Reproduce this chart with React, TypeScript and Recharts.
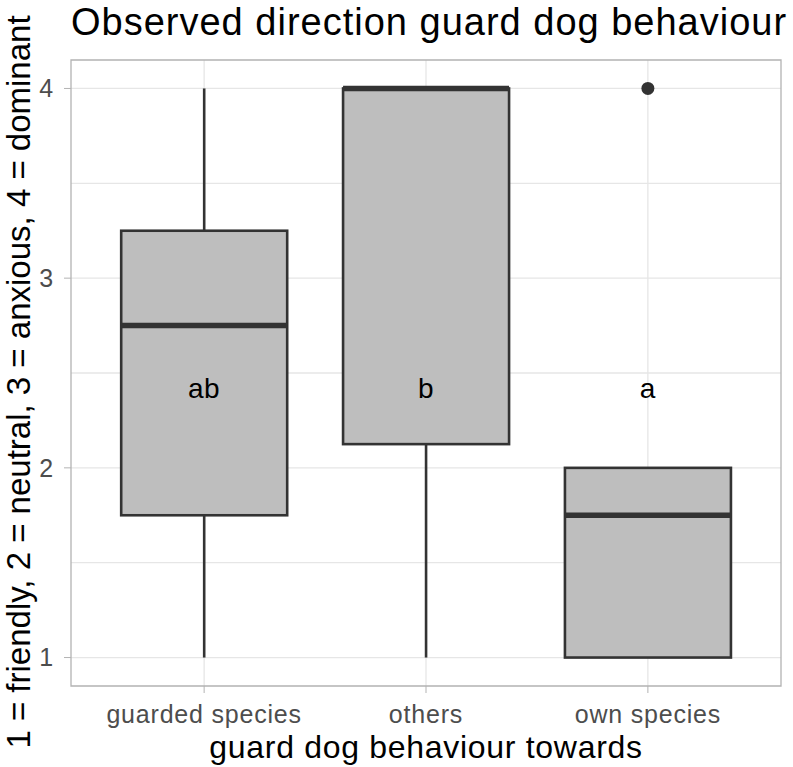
import * as React from 'react';
import {
  Bar,
  CartesianGrid,
  ComposedChart,
  ReferenceArea,
  Scatter,
  XAxis,
  YAxis,
} from 'recharts';

const categories = ['guarded species', 'others', 'own species'];
const whiskerLow = [1, 1, 1];
const q1 = [1.75, 2.125, 1];
const median = [2.75, 4, 1.75];
const q3 = [3.25, 4, 2];
const whiskerHigh = [4, 4, 2];
const outliers = [null, null, 4];
const letters = ['ab', 'b', 'a'];
const letterY = [2.42, 2.42, 2.42];
const yTicks = [1, 2, 3, 4];
const gridValues = [1, 1.5, 2, 2.5, 3, 3.5, 4];
const xTicks = [1, 2, 3];

const data = categories.map((name, i) => ({
  idx: i + 1,
  name,
  range: [whiskerLow[i], whiskerHigh[i]],
  lo: whiskerLow[i],
  q1: q1[i],
  med: median[i],
  q3: q3[i],
  hi: whiskerHigh[i],
  outlier: outliers[i],
  letter: letters[i],
  letterY: letterY[i],
}));

const FONT = '"Liberation Sans", Arial, sans-serif';
const INK = '#333333';

const BoxShape = (props: any) => {
  const { x, y, width, height, payload } = props;
  const { lo, hi } = payload;
  const k = height / (hi - lo);
  const yOf = (v: number) => y + (hi - v) * k;
  const cx = x + width / 2;
  return (
    <g>
      <line x1={cx} x2={cx} y1={yOf(hi)} y2={yOf(payload.q3)} stroke={INK} strokeWidth={2.6} />
      <line x1={cx} x2={cx} y1={yOf(payload.q1)} y2={yOf(lo)} stroke={INK} strokeWidth={2.6} />
      <rect
        x={x}
        y={yOf(payload.q3)}
        width={width}
        height={yOf(payload.q1) - yOf(payload.q3)}
        fill="#bebebe"
        stroke={INK}
        strokeWidth={2.6}
      />
      <line x1={x} x2={x + width} y1={yOf(payload.med)} y2={yOf(payload.med)} stroke={INK} strokeWidth={5.5} />
    </g>
  );
};

const OutlierShape = (props: any) => {
  const { cx, cy, payload } = props;
  if (payload.outlier == null || !isFinite(cy)) return <g />;
  return <circle cx={cx} cy={cy} r={6.5} fill={INK} />;
};

const LetterShape = (props: any) => {
  const { cx, cy, payload } = props;
  return (
    <text
      x={cx}
      y={cy}
      textAnchor="middle"
      dominantBaseline="central"
      fontSize={28}
      letterSpacing={0.5}
      fontFamily={FONT}
      fill="#000"
    >
      {payload.letter}
    </text>
  );
};

const tickStyle = { fill: '#4d4d4d', fontSize: 25, fontFamily: FONT, letterSpacing: 0.8 };

export default function App() {
  return (
    <div style={{ position: 'absolute', left: 0, top: 0, width: 793, height: 767, background: '#fff' }}>
      <svg width={793} height={767} style={{ position: 'absolute', left: 0, top: 0 }}>
        <text x={71} y={35} fontSize={38} letterSpacing={1} fontFamily={FONT} fill="#000">
          Observed direction guard dog behaviour
        </text>
        <text
          x={0}
          y={0}
          transform="translate(30,382) rotate(-90)"
          textAnchor="middle"
          fontSize={33}
          fontFamily={FONT}
          fill="#000"
        >
          1 = friendly, 2 = neutral, 3 = anxious, 4 = dominant
        </text>
        <text x={426} y={758} textAnchor="middle" fontSize={32} letterSpacing={0.7} fontFamily={FONT} fill="#000">
          guard dog behaviour towards
        </text>
      </svg>
      <div style={{ position: 'absolute', left: 0, top: 0 }}>
        <ComposedChart
          width={793}
          height={767}
          data={data}
          margin={{ top: 60, right: 12, left: 0, bottom: 0 }}
          barSize={166}
        >
          <CartesianGrid
            stroke="#e6e6e6"
            strokeWidth={1.3}
            horizontalValues={gridValues}
            verticalValues={xTicks}
          />
          <XAxis
            dataKey="idx"
            type="number"
            domain={[0.4, 3.6]}
            ticks={xTicks}
            tickFormatter={(v: number) => categories[v - 1]}
            height={81}
            tickSize={7}
            tickMargin={12}
            tickLine={{ stroke: '#b3b3b3' }}
            axisLine={false}
            tick={tickStyle}
            allowDataOverflow
          />
          <YAxis
            type="number"
            width={71}
            domain={[0.85, 4.15]}
            ticks={yTicks}
            tickSize={7}
            tickMargin={10}
            tickLine={{ stroke: '#b3b3b3' }}
            axisLine={false}
            tick={tickStyle}
            allowDataOverflow
          />
          <Bar dataKey="range" shape={BoxShape} isAnimationActive={false} />
          <Scatter dataKey="outlier" shape={OutlierShape} isAnimationActive={false} />
          <Scatter dataKey="letterY" shape={LetterShape} isAnimationActive={false} />
          <ReferenceArea x1={0.4} x2={3.6} y1={0.85} y2={4.15} fill="none" stroke="#b3b3b3" strokeWidth={1.3} />
        </ComposedChart>
      </div>
    </div>
  );
}
